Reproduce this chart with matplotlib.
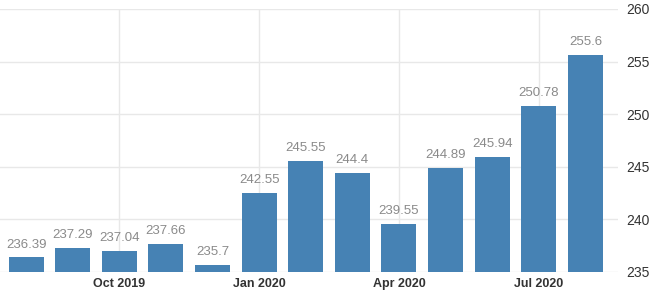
import matplotlib
matplotlib.use("Agg")
import matplotlib.pyplot as plt

plt.rcParams['font.family'] = ['Liberation Sans', 'DejaVu Sans']

months = ["Aug 2019", "Sep 2019", "Oct 2019", "Nov 2019", "Dec 2019", "Jan 2020",
          "Feb 2020", "Mar 2020", "Apr 2020", "May 2020", "Jun 2020", "Jul 2020", "Aug 2020"]
values = [236.39, 237.29, 237.04, 237.66, 235.7, 242.55, 245.55, 244.4, 239.55,
          244.89, 245.94, 250.78, 255.6]
labels = ["236.39", "237.29", "237.04", "237.66", "235.7", "242.55", "245.55", "244.4",
          "239.55", "244.89", "245.94", "250.78", "255.6"]
xtick_labels = ["Oct 2019", "Jan 2020", "Apr 2020", "Jul 2020"]
xtick_idx = [2, 5, 8, 11]
yticks = [235, 240, 245, 250, 255, 260]

fig = plt.figure(figsize=(6.54, 2.93), dpi=100)
ax = fig.add_axes([0.0, 0.0717, 0.945, 0.8976])
x = list(range(len(values)))
ax.bar(x, [v - 235 for v in values], bottom=235, width=0.75, color="#4682b4", zorder=3)
for xi, v, l in zip(x, values, labels):
    ax.text(xi, v + 0.65, l, ha="center", va="bottom", fontsize=9.5, color="#8a8a8a", zorder=4)

ax.set_xlim(-0.56, 12.7)
ax.set_ylim(235, 260)
ax.set_yticks(yticks)
ax.set_xticks(xtick_idx)
ax.set_xticklabels(xtick_labels)
ax.yaxis.tick_right()
ax.tick_params(axis="y", length=0, pad=6, labelsize=10, colors="#333333")
ax.tick_params(axis="x", length=0, pad=4, labelsize=9, colors="#333333")
for lab in ax.get_xticklabels():
    lab.set_fontweight("bold")
ax.grid(True, color="#e8e8e8", linewidth=1, zorder=0)
for s in ax.spines.values():
    s.set_visible(False)
fig.savefig("out.png", dpi=100)
